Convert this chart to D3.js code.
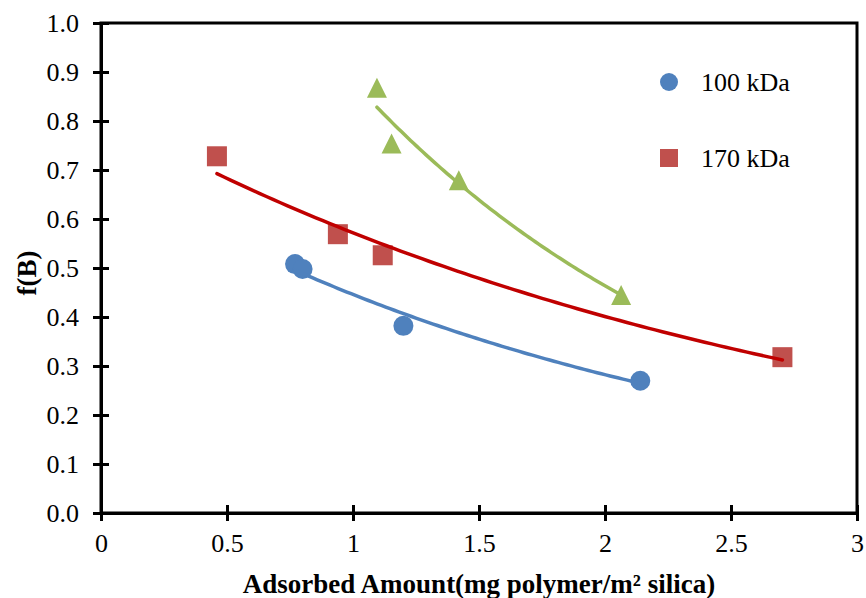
<!DOCTYPE html>
<html>
<head>
<meta charset="utf-8">
<script src="https://cdn.jsdelivr.net/npm/d3@7/dist/d3.min.js"></script>
<style>
  html, body { margin: 0; padding: 0; background: #fff; }
  svg { display: block; }
</style>
</head>
<body>
<svg id="chart" width="866" height="598"></svg>
<script>
// Adsorbed amount (mg polymer / m² silica) and f(B) for each polymer series
const x100 = [0.77, 0.80, 1.20, 2.14];
const y100 = [0.508, 0.498, 0.382, 0.270];

const x170 = [0.46, 0.94, 1.118, 2.704];
const y170 = [0.728, 0.569, 0.526, 0.318];

const xTri = [1.095, 1.153, 1.42, 2.064];
const yTri = [0.868, 0.754, 0.679, 0.445];

const xTicks = [0, 0.5, 1, 1.5, 2, 2.5, 3];
const xTickLabels = ["0", "0.5", "1", "1.5", "2", "2.5", "3"];
const yTicks = [0, 0.1, 0.2, 0.3, 0.4, 0.5, 0.6, 0.7, 0.8, 0.9, 1.0];
const yTickLabels = ["0.0", "0.1", "0.2", "0.3", "0.4", "0.5", "0.6", "0.7", "0.8", "0.9", "1.0"];

const legendLabels = ["100 kDa", "170 kDa"];

const FONT = "'Liberation Serif', 'DejaVu Serif', 'Times New Roman', Times, serif";

const svg = d3.select("#chart").style("font-family", FONT);
const plotL = 101, plotR = 857, plotT = 23, plotB = 513;

const x = d3.scaleLinear().domain([0, 3]).range([plotL, plotR]);
const y = d3.scaleLinear().domain([0, 1]).range([plotB, plotT]);

const colors = {
  blue: "#4F81BD",
  red: "#C0504D",
  redLine: "#C00000",
  green: "#9BBB59"
};

// Exponential trendline y = a·e^(b·x), least squares on ln(y)
function expFit(xs, ys) {
  const ly = ys.map(Math.log);
  const mx = d3.mean(xs), my = d3.mean(ly);
  let sxy = 0, sxx = 0;
  xs.forEach((v, i) => { sxy += (v - mx) * (ly[i] - my); sxx += (v - mx) * (v - mx); });
  const b = sxy / sxx;
  const a = Math.exp(my - b * mx);
  return v => a * Math.exp(b * v);
}

function trend(xs, ys) {
  const f = expFit(xs, ys);
  const [x0, x1] = d3.extent(xs);
  return d3.range(0, 81).map(i => {
    const v = x0 + (x1 - x0) * i / 80;
    return [v, f(v)];
  });
}

// Plot frame: axes plus top and right borders
svg.append("path")
  .attr("d", `M${plotL},${plotT}H${plotR}V${plotB}H${plotL}Z`)
  .attr("fill", "none").attr("stroke", "#000").attr("stroke-width", 3);

// Y axis
const yAxis = svg.append("g")
  .attr("transform", `translate(${plotL},0)`)
  .call(d3.axisLeft(y).tickValues(yTicks).tickSizeInner(8).tickSizeOuter(0)
    .tickPadding(14).tickFormat((d, i) => yTickLabels[i]));
yAxis.attr("font-family", null).style("font-family", FONT);
yAxis.select(".domain").attr("stroke-width", 3);
yAxis.selectAll(".tick line").attr("x1", 8).attr("stroke-width", 3);
yAxis.selectAll(".tick text")
  .style("font-family", FONT).style("font-size", "26px").attr("fill", "#000");

// X axis
const xAxis = svg.append("g")
  .attr("transform", `translate(0,${plotB})`)
  .call(d3.axisBottom(x).tickValues(xTicks).tickSizeInner(8).tickSizeOuter(0)
    .tickPadding(13).tickFormat((d, i) => xTickLabels[i]));
xAxis.attr("font-family", null).style("font-family", FONT);
xAxis.select(".domain").attr("stroke-width", 3);
xAxis.selectAll(".tick line").attr("y1", -8).attr("stroke-width", 3);
xAxis.selectAll(".tick text")
  .style("font-family", FONT).style("font-size", "26px").attr("fill", "#000");

// Axis titles
svg.append("text")
  .attr("x", (plotL + plotR) / 2).attr("y", 593)
  .attr("text-anchor", "middle")
  .style("font-family", FONT).style("font-size", "27px").style("font-weight", "bold")
  .text("Adsorbed Amount(mg polymer/m² silica)");

svg.append("text")
  .attr("transform", `translate(36,273) rotate(-90)`)
  .attr("text-anchor", "middle")
  .style("font-family", FONT).style("font-size", "27px").style("font-weight", "bold")
  .text("f(B)");

// Markers
const marks = svg.append("g");
marks.selectAll("circle.s100").data(x100.map((v, i) => [v, y100[i]])).join("circle")
  .attr("class", "s100")
  .attr("cx", d => x(d[0])).attr("cy", d => y(d[1])).attr("r", 10)
  .attr("fill", colors.blue);

const sq = 20;
marks.selectAll("rect.s170").data(x170.map((v, i) => [v, y170[i]])).join("rect")
  .attr("class", "s170")
  .attr("x", d => x(d[0]) - sq / 2).attr("y", d => y(d[1]) - sq / 2)
  .attr("width", sq).attr("height", sq)
  .attr("fill", colors.red);

const tw = 20, th = 20;
marks.selectAll("path.tri").data(xTri.map((v, i) => [v, yTri[i]])).join("path")
  .attr("class", "tri")
  .attr("d", d => {
    const cx = x(d[0]), cy = y(d[1]);
    return `M${cx},${cy - th / 2}L${cx + tw / 2},${cy + th / 2}L${cx - tw / 2},${cy + th / 2}Z`;
  })
  .attr("fill", colors.green);

// Trendlines on top of markers
const line = d3.line().x(d => x(d[0])).y(d => y(d[1]));
const trends = [
  { pts: trend(x100, y100), color: colors.blue },
  { pts: trend(x170, y170), color: colors.redLine },
  { pts: trend(xTri, yTri), color: colors.green }
];
svg.append("g").selectAll("path").data(trends).join("path")
  .attr("d", d => line(d.pts))
  .attr("fill", "none")
  .attr("stroke", d => d.color)
  .attr("stroke-width", 3.5)
  .attr("stroke-linecap", "round");

// Legend
const legend = svg.append("g");
legend.append("circle").attr("cx", 669).attr("cy", 82).attr("r", 9).attr("fill", colors.blue);
legend.append("rect").attr("x", 660).attr("y", 149).attr("width", 18).attr("height", 18).attr("fill", colors.red);
legend.selectAll("text").data(legendLabels).join("text")
  .attr("x", 701).attr("y", (d, i) => 91 + i * 76)
  .style("font-family", FONT).style("font-size", "26px")
  .text(d => d);
</script>
</body>
</html>
